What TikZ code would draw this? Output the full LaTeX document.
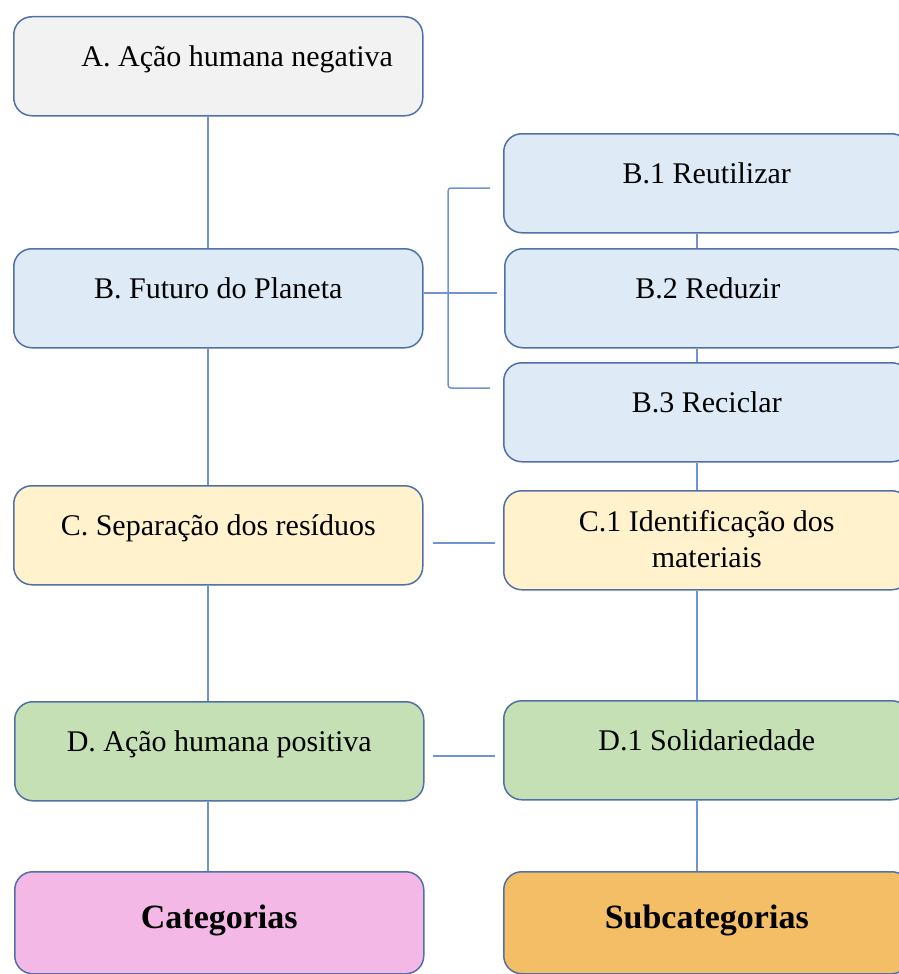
\documentclass[tikz,border=0pt]{standalone}
\usepackage{fontspec}
\setmainfont{Liberation Serif}
\definecolor{bordc}{HTML}{5170A8}
\definecolor{linec}{HTML}{7094D2}
\definecolor{fgray}{HTML}{F2F2F2}
\definecolor{fblue}{HTML}{DEEAF6}
\definecolor{fyellow}{HTML}{FFF2CC}
\definecolor{fgreen}{HTML}{C5E0B4}
\definecolor{fpink}{HTML}{F3B8E6}
\definecolor{forange}{HTML}{F4BE66}
\newcommand{\bodyfnt}{\fontsize{30}{36}\selectfont}
\newcommand{\headfnt}{\fontsize{34}{40}\selectfont\bfseries}
\tikzset{
  box/.style={draw=bordc, line width=1.5pt, rounded corners=18pt,
    minimum width=409pt, minimum height=99pt, inner xsep=0pt, inner ysep=0pt,
    anchor=north west, text height=50pt, text depth=49pt, align=center, font=\bodyfnt},
  rbox/.style={box, minimum width=406pt},
  conn/.style={draw=linec, line width=1.5pt}
}
\begin{document}
\begin{tikzpicture}[x=1pt,y=-1pt]
\useasboundingbox (0,0) rectangle (899,974);
\clip (0,0) rectangle (899,974);
% left column
\node[box, fill=fgray] (A) at (13,16) {\hspace*{38pt}A. Ação humana negativa};
\node[box, fill=fblue] (B) at (13,248) {B. Futuro do Planeta};
\node[box, fill=fyellow] (C) at (13,485) {C. Separação dos resíduos};
\node[box, fill=fgreen] (D) at (14,701) {D. Ação humana positiva};
\node[box, fill=fpink, text height=57pt, text depth=45pt, font=\headfnt] (CAT) at (14,871) {Categorias};
% right column
\node[rbox, fill=fblue] (B1) at (503,133) {B.1 Reutilizar};
\node[rbox, fill=fblue] (B2) at (504,248) {B.2 Reduzir};
\node[rbox, fill=fblue] (B3) at (503,362) {B.3 Reciclar};
\node[rbox, fill=fyellow, text height=77pt, text depth=22pt] (C1) at (503,490) {C.1 Identificação dos\\materiais};
\node[rbox, fill=fgreen] (D1) at (503,700) {D.1 Solidariedade};
\node[rbox, fill=forange, text height=57pt, text depth=45pt, font=\headfnt] (SUB) at (503,871) {Subcategorias};
% left vertical connectors
\draw[conn] (A.south -| 208,0) -- (B.north -| 208,0);
\draw[conn] (B.south -| 208,0) -- (C.north -| 208,0);
\draw[conn] (C.south -| 208,0) -- (D.north -| 208,0);
\draw[conn] (D.south -| 208,0) -- (CAT.north -| 208,0);
% right vertical connectors
\draw[conn] (B1.south -| 697,0) -- (B2.north -| 697,0);
\draw[conn] (B2.south -| 697,0) -- (B3.north -| 697,0);
\draw[conn] (B3.south -| 697,0) -- (C1.north -| 697,0);
\draw[conn] (C1.south -| 697,0) -- (D1.north -| 697,0);
\draw[conn] (D1.south -| 697,0) -- (SUB.north -| 697,0);
% bracket
\coordinate (bt) at (490,188);
\coordinate (bb) at (490,388);
\coordinate (bm) at (497,293);
\draw[conn, rounded corners=3pt] (bt) -- (448,188) -- (448,388) -- (bb);
\draw[conn] (B.east |- bm) -- (bm);
% horizontal connectors
\coordinate (c0) at (433,543);
\coordinate (c1) at (495,543);
\draw[conn] (c0) -- (c1);
\coordinate (d0) at (433,756);
\coordinate (d1) at (495,756);
\draw[conn] (d0) -- (d1);
\end{tikzpicture}
\end{document}
